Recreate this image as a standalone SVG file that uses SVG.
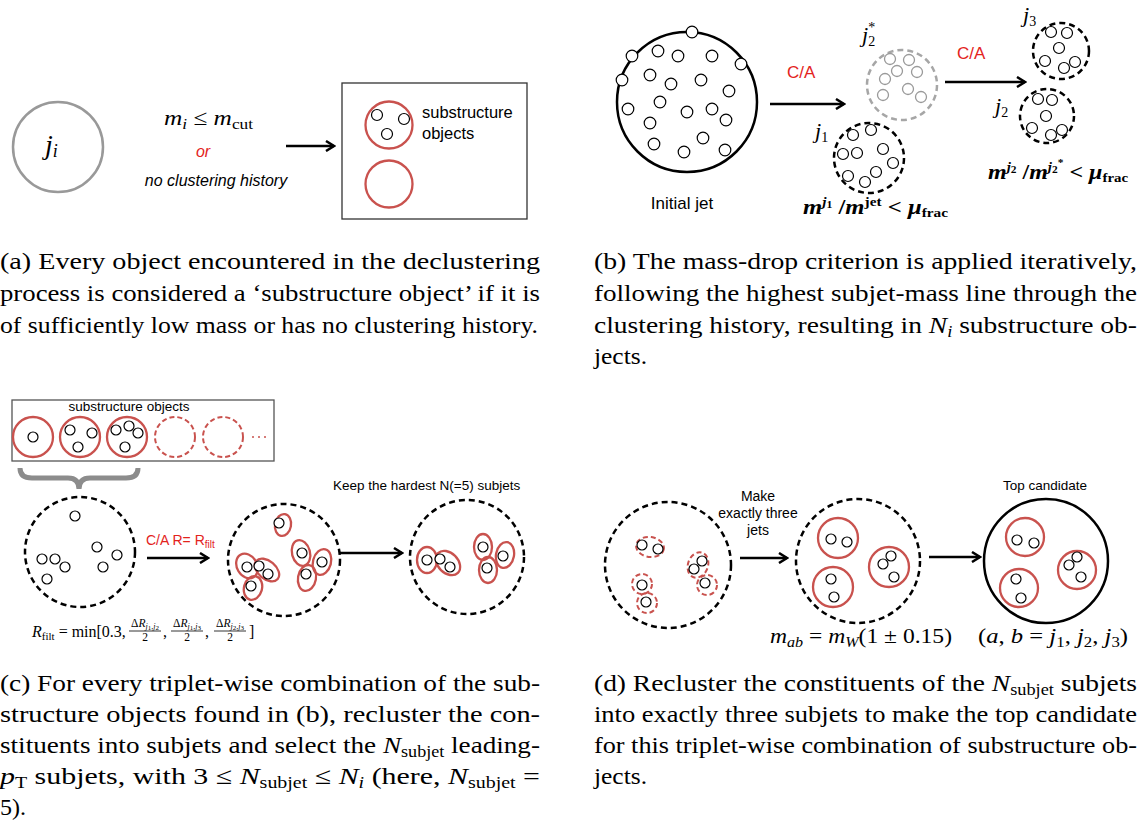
<svg xmlns="http://www.w3.org/2000/svg" width="1139" height="823" viewBox="0 0 1139 823">
<style>
.c{fill:#fff;stroke:#000;stroke-width:1.2}
.cg{fill:none;stroke:#9a9a9a;stroke-width:1.3}
.red{fill:none;stroke:#c9524e;stroke-width:2.3}
.redd{fill:none;stroke:#c9524e;stroke-width:2;stroke-dasharray:5 3}
.jet{fill:none;stroke:#000;stroke-width:2.5}
.jetd{fill:none;stroke:#000;stroke-width:2.5;stroke-dasharray:6 4}
.arr{stroke:#000;stroke-width:2.5;fill:none;marker-end:url(#ah)}
.sans{font-family:"Liberation Sans",Arial,sans-serif;fill:#000}
.serif{font-family:"Liberation Serif","Times New Roman",serif;fill:#000}
.mi{font-family:"Liberation Serif","Times New Roman",serif;font-style:italic;fill:#000}
.bm{font-family:"Liberation Serif","Times New Roman",serif;font-style:italic;font-weight:bold;fill:#000;font-size:21px}
.redt{fill:#e3231c}
.cap{font-family:"Liberation Serif","Times New Roman",serif;font-size:24px;fill:#000}
.up{font-style:normal}
</style>
<defs>
<marker id="ah" viewBox="0 0 12 12" refX="10" refY="6" markerWidth="12" markerHeight="12" markerUnits="userSpaceOnUse" orient="auto">
<path d="M2,1 L10,6 L2,11" fill="none" stroke="#000" stroke-width="2.5"/>
</marker>
</defs>

<!-- Panel (a) -->
<g id="a-jet">
<circle cx="58" cy="147" r="45" fill="#fff" stroke="#999" stroke-width="2.5"/>
<text x="45" y="154" class="mi" font-size="28">j<tspan font-size="18" dy="3">i</tspan></text>
</g>
<g id="a-cond">
<text x="164" y="125" class="mi" font-size="22" textLength="89" lengthAdjust="spacingAndGlyphs">m<tspan font-size="15" dy="4">i</tspan><tspan dy="-4" class="up"> ≤ </tspan>m<tspan font-size="15" dy="4" class="up">cut</tspan></text>
<text x="203" y="157" class="sans redt" font-size="16" font-style="italic" text-anchor="middle">or</text>
<text x="216" y="186" class="sans" font-size="16" font-style="italic" text-anchor="middle">no clustering history</text>
</g>
<g id="a-box">
<rect x="342" y="83" width="185" height="136" fill="#fff" stroke="#333" stroke-width="1.3"/>
<circle cx="389" cy="125" r="23.5" class="red"/>
<circle cx="377" cy="115" r="5.5" class="c"/>
<circle cx="404" cy="119" r="5.5" class="c"/>
<circle cx="387" cy="134" r="5.5" class="c"/>
<circle cx="389" cy="184" r="23.5" class="red"/>
<text x="422" y="118" class="sans" font-size="16.5">substructure</text>
<text x="422" y="139" class="sans" font-size="16.5">objects</text>
</g>

<!-- Panel (b) -->
<g id="b-initial">
<circle cx="687" cy="102" r="70" class="jet"/>
<g class="c">
<circle cx="692" cy="32" r="5.8"/><circle cx="632" cy="56" r="5.8"/><circle cx="658" cy="51" r="5.8"/><circle cx="678" cy="56" r="5.8"/><circle cx="712" cy="56" r="5.8"/><circle cx="741" cy="64" r="5.8"/><circle cx="622" cy="80" r="5.8"/><circle cx="650" cy="75" r="5.8"/><circle cx="671" cy="84" r="5.8"/><circle cx="701" cy="80" r="5.8"/><circle cx="729" cy="91" r="5.8"/><circle cx="628" cy="109" r="5.8"/><circle cx="660" cy="102" r="5.8"/><circle cx="687" cy="112" r="5.8"/><circle cx="712" cy="109" r="5.8"/><circle cx="726" cy="120" r="5.8"/><circle cx="650" cy="123" r="5.8"/><circle cx="654" cy="144" r="5.8"/><circle cx="684" cy="152" r="5.8"/><circle cx="703" cy="138" r="5.8"/><circle cx="725" cy="150" r="5.8"/>
</g>
<text x="682" y="209" class="sans" font-size="17" text-anchor="middle">Initial jet</text>
</g>
<g id="b-j2star">
<circle cx="902" cy="85" r="35" fill="none" stroke="#a6a6a6" stroke-width="2.5" stroke-dasharray="6 4"/>
<g class="cg">
<circle cx="890" cy="59" r="5.5"/><circle cx="909" cy="60" r="5.5"/><circle cx="897" cy="71" r="5.5"/><circle cx="917" cy="72" r="5.5"/><circle cx="885" cy="79" r="5.5"/><circle cx="908" cy="89" r="5.5"/><circle cx="883" cy="95" r="5.5"/><circle cx="921" cy="97" r="5.5"/>
</g>
<text x="862" y="42" class="mi" font-size="22">j<tspan font-size="14" dy="4" class="up">2</tspan><tspan font-size="14" dx="-7" dy="-14" class="up">*</tspan></text>
</g>
<g id="b-j1">
<circle cx="869" cy="158" r="35" class="jetd"/>
<g class="c">
<circle cx="853" cy="135" r="5.5"/><circle cx="871" cy="130" r="5.5"/><circle cx="843" cy="154" r="5.5"/><circle cx="857" cy="153" r="5.5"/><circle cx="883" cy="149" r="5.5"/><circle cx="893" cy="163" r="5.5"/><circle cx="848" cy="176" r="5.5"/><circle cx="865" cy="182" r="5.5"/><circle cx="876" cy="172" r="5.5"/>
</g>
<text x="815" y="138" class="mi" font-size="22">j<tspan font-size="14" dy="4" class="up">1</tspan></text>
<text x="803" y="214" class="bm" textLength="145" lengthAdjust="spacingAndGlyphs">m<tspan font-size="13" dy="-8">j</tspan><tspan font-size="10" dy="2" class="up">1</tspan><tspan dy="6" class="up"> /</tspan>m<tspan font-size="13" dy="-8" class="up">jet</tspan><tspan dy="8" class="up"> &lt; </tspan>μ<tspan font-size="13" dy="3" class="up">frac</tspan></text>
</g>
<g id="b-j3">
<circle cx="1061" cy="51" r="28" class="jetd"/>
<g class="c">
<circle cx="1051" cy="32" r="5.5"/><circle cx="1067" cy="33" r="5.5"/><circle cx="1059" cy="48" r="5.5"/><circle cx="1045" cy="61" r="5.5"/><circle cx="1064" cy="68" r="5.5"/><circle cx="1075" cy="62" r="5.5"/>
</g>
<text x="1023" y="22" class="mi" font-size="22">j<tspan font-size="14" dy="4" class="up">3</tspan></text>
</g>
<g id="b-j2">
<circle cx="1047" cy="116" r="27" class="jetd"/>
<g class="c">
<circle cx="1038" cy="99" r="5.5"/><circle cx="1052" cy="100" r="5.5"/><circle cx="1046" cy="116" r="5.5"/><circle cx="1032" cy="128" r="5.5"/><circle cx="1051" cy="135" r="5.5"/><circle cx="1062" cy="130" r="5.5"/>
</g>
<text x="995" y="113" class="mi" font-size="22">j<tspan font-size="14" dy="4" class="up">2</tspan></text>
<text x="988" y="179" class="bm" textLength="140" lengthAdjust="spacingAndGlyphs">m<tspan font-size="13" dy="-8">j</tspan><tspan font-size="10" dy="2" class="up">2</tspan><tspan dy="6" class="up"> /</tspan>m<tspan font-size="13" dy="-8">j</tspan><tspan font-size="10" dy="2" class="up">2</tspan><tspan font-size="10" dy="-7" class="up">*</tspan><tspan dy="13" class="up"> &lt; </tspan>μ<tspan font-size="13" dy="3" class="up">frac</tspan></text>
</g>
<g id="b-labels">
<text x="787" y="78" class="sans redt" font-size="17">C/A</text>
<text x="957" y="59" class="sans redt" font-size="17">C/A</text>
</g>

<!-- Panel (c) -->
<g id="c-box">
<rect x="12" y="400" width="262" height="61" fill="#fff" stroke="#555" stroke-width="1.3"/>
<text x="129" y="411" class="sans" font-size="13.5" text-anchor="middle">substructure objects</text>
<circle cx="33" cy="437" r="20" class="red"/>
<circle cx="80" cy="437" r="20" class="red"/>
<circle cx="127" cy="437" r="20" class="red"/>
<circle cx="175" cy="437" r="20" class="redd"/>
<circle cx="223" cy="437" r="20" class="redd"/>
<g fill="#c9524e"><circle cx="253" cy="437" r="1"/><circle cx="259" cy="437" r="1"/><circle cx="265" cy="437" r="1"/></g>
<g class="c">
<circle cx="33" cy="437" r="5"/>
<circle cx="70" cy="430" r="5"/><circle cx="92" cy="433" r="5"/><circle cx="78" cy="447" r="5"/>
<circle cx="116" cy="430" r="5"/><circle cx="129" cy="426" r="5"/><circle cx="138" cy="433" r="5"/><circle cx="125" cy="447" r="5"/>
</g>
</g>
<g id="c-brace">
<path d="M20,468 Q20,478 32,478 L68,478 Q79,478 79,489 Q79,478 90,478 L126,478 Q138,478 138,468" fill="none" stroke="#8c8c8c" stroke-width="5"/>
</g>
<g id="c-jet1">
<circle cx="80" cy="552" r="55" class="jetd"/>
<g class="c">
<circle cx="75" cy="516" r="5"/><circle cx="97" cy="547" r="5"/><circle cx="117" cy="555" r="5"/><circle cx="42" cy="559" r="5"/><circle cx="55" cy="559" r="5"/><circle cx="65" cy="567" r="5"/><circle cx="103" cy="567" r="5"/><circle cx="47" cy="579" r="5"/>
</g>
</g>
<g id="c-jet2">
<circle cx="284" cy="560" r="56" class="jetd"/>
<ellipse cx="283" cy="525" rx="8" ry="11" transform="rotate(10 283 525)" class="red"/>
<ellipse cx="247" cy="566" rx="10" ry="13" transform="rotate(-30 247 566)" class="red"/>
<ellipse cx="267" cy="570" rx="9" ry="14" transform="rotate(-50 267 570)" class="red"/>
<ellipse cx="253" cy="588" rx="9" ry="12" transform="rotate(15 253 588)" class="red"/>
<ellipse cx="301" cy="553" rx="9" ry="13" transform="rotate(-15 301 553)" class="red"/>
<ellipse cx="322" cy="562" rx="9" ry="13" transform="rotate(15 322 562)" class="red"/>
<ellipse cx="307" cy="578" rx="9" ry="13" transform="rotate(10 307 578)" class="red"/>
<g class="c">
<circle cx="279" cy="523" r="5"/><circle cx="247" cy="567" r="5"/><circle cx="259" cy="566" r="5"/><circle cx="268" cy="574" r="5"/><circle cx="251" cy="586" r="5"/><circle cx="302" cy="553" r="5"/><circle cx="322" cy="562" r="5"/><circle cx="306" cy="574" r="5"/>
</g>
</g>
<g id="c-jet3">
<circle cx="467" cy="557" r="57" class="jetd"/>
<ellipse cx="427" cy="560" rx="10" ry="13" class="red"/>
<ellipse cx="448" cy="563" rx="10" ry="14" transform="rotate(-45 448 563)" class="red"/>
<ellipse cx="483" cy="547" rx="9" ry="13" class="red"/>
<ellipse cx="505" cy="555" rx="9" ry="13" transform="rotate(10 505 555)" class="red"/>
<ellipse cx="488" cy="570" rx="9" ry="13" class="red"/>
<g class="c">
<circle cx="427" cy="560" r="5"/><circle cx="440" cy="559" r="5"/><circle cx="450" cy="567" r="5"/><circle cx="483" cy="547" r="5"/><circle cx="503" cy="556" r="5"/><circle cx="487" cy="568" r="5"/>
</g>
</g>
<g id="c-labels">
<text x="146" y="545" class="sans redt" font-size="14">C/A R= R<tspan font-size="10" dy="3">filt</tspan></text>
<text x="333" y="490" class="sans" font-size="13.5">Keep the hardest N(=5) subjets</text>
</g>
<g id="c-formula" class="serif">
<text x="32" y="637" font-size="16"><tspan font-style="italic">R</tspan><tspan font-size="11" dy="3">filt</tspan><tspan dy="-3"> = min[0.3,</tspan></text>
<text x="145" y="627" font-size="11.5" text-anchor="middle">Δ<tspan font-style="italic">R</tspan><tspan font-size="8" dy="2" font-style="italic">j</tspan><tspan font-size="7" dy="1">1</tspan><tspan font-size="8" dy="-1">,</tspan><tspan font-size="8" font-style="italic">j</tspan><tspan font-size="7" dy="1">2</tspan></text>
<line x1="129" y1="631" x2="161" y2="631" stroke="#000" stroke-width="0.8"/>
<text x="145" y="641" font-size="11.5" text-anchor="middle">2</text>
<text x="163" y="637" font-size="16">,</text>
<text x="187" y="627" font-size="11.5" text-anchor="middle">Δ<tspan font-style="italic">R</tspan><tspan font-size="8" dy="2" font-style="italic">j</tspan><tspan font-size="7" dy="1">1</tspan><tspan font-size="8" dy="-1">,</tspan><tspan font-size="8" font-style="italic">j</tspan><tspan font-size="7" dy="1">3</tspan></text>
<line x1="171" y1="631" x2="203" y2="631" stroke="#000" stroke-width="0.8"/>
<text x="187" y="641" font-size="11.5" text-anchor="middle">2</text>
<text x="205" y="637" font-size="16">,</text>
<text x="230" y="627" font-size="11.5" text-anchor="middle">Δ<tspan font-style="italic">R</tspan><tspan font-size="8" dy="2" font-style="italic">j</tspan><tspan font-size="7" dy="1">2</tspan><tspan font-size="8" dy="-1">,</tspan><tspan font-size="8" font-style="italic">j</tspan><tspan font-size="7" dy="1">3</tspan></text>
<line x1="214" y1="631" x2="246" y2="631" stroke="#000" stroke-width="0.8"/>
<text x="230" y="641" font-size="11.5" text-anchor="middle">2</text>
<text x="249" y="637" font-size="16">]</text>
</g>

<!-- Panel (d) -->
<g id="d-jet1">
<circle cx="668" cy="565" r="63" class="jetd"/>
<ellipse cx="650" cy="547" rx="14" ry="10" transform="rotate(8 650 547)" class="redd"/>
<ellipse cx="698" cy="565" rx="10" ry="13" transform="rotate(20 698 565)" class="redd"/>
<circle cx="707" cy="585" r="10" class="redd"/>
<circle cx="642" cy="584" r="10" class="redd"/>
<circle cx="647" cy="603" r="10" class="redd"/>
<g class="c">
<circle cx="642" cy="545" r="5"/><circle cx="658" cy="549" r="5"/><circle cx="702" cy="561" r="5"/><circle cx="694" cy="569" r="5"/><circle cx="705" cy="583" r="5"/><circle cx="642" cy="585" r="5"/><circle cx="646" cy="602" r="5"/>
</g>
</g>
<g id="d-jet2">
<circle cx="858" cy="561" r="62" class="jetd"/>
<circle cx="838" cy="538" r="20" class="red"/>
<circle cx="833" cy="587" r="20" class="red"/>
<circle cx="889" cy="567" r="20" class="red"/>
<g class="c">
<circle cx="831" cy="539" r="5"/><circle cx="847" cy="542" r="5"/><circle cx="831" cy="579" r="5"/><circle cx="834" cy="597" r="5"/><circle cx="883" cy="564" r="5"/><circle cx="891" cy="556" r="5"/><circle cx="894" cy="577" r="5"/>
</g>
</g>
<g id="d-top">
<circle cx="1046" cy="561" r="62" class="jet"/>
<circle cx="1025" cy="537" r="19" class="red"/>
<circle cx="1019" cy="588" r="19" class="red"/>
<circle cx="1077" cy="570" r="19" class="red"/>
<g class="c">
<circle cx="1017" cy="540" r="5"/><circle cx="1034" cy="543" r="5"/><circle cx="1016" cy="579" r="5"/><circle cx="1021" cy="598" r="5"/><circle cx="1069" cy="565" r="5"/><circle cx="1077" cy="557" r="5"/><circle cx="1081" cy="577" r="5"/>
</g>
<text x="1045" y="490" class="sans" font-size="13.5" text-anchor="middle">Top candidate</text>
</g>
<g id="d-labels">
<text x="758" y="501" class="sans" font-size="14" text-anchor="middle">Make</text>
<text x="758" y="518" class="sans" font-size="14" text-anchor="middle">exactly three</text>
<text x="758" y="535" class="sans" font-size="14" text-anchor="middle">jets</text>
<text x="770" y="643" class="serif" font-size="22" textLength="182" lengthAdjust="spacingAndGlyphs"><tspan font-style="italic">m</tspan><tspan font-size="15" dy="4" font-style="italic">ab</tspan><tspan dy="-4"> = </tspan><tspan font-style="italic">m</tspan><tspan font-size="15" dy="4" font-style="italic">W</tspan><tspan dy="-4">(1 ± 0.15)</tspan></text>
<text x="978" y="643" class="serif" font-size="22" textLength="150" lengthAdjust="spacingAndGlyphs">(<tspan font-style="italic">a</tspan>, <tspan font-style="italic">b</tspan> = <tspan font-style="italic">j</tspan><tspan font-size="15" dy="4">1</tspan><tspan dy="-4">, </tspan><tspan font-style="italic">j</tspan><tspan font-size="15" dy="4">2</tspan><tspan dy="-4">, </tspan><tspan font-style="italic">j</tspan><tspan font-size="15" dy="4">3</tspan><tspan dy="-4">)</tspan></text>
</g>

<!-- Connectors -->
<g id="connectors">
<line x1="286" y1="146" x2="334" y2="146" class="arr"/>
<line x1="770" y1="104" x2="844" y2="104" class="arr"/>
<line x1="945" y1="82" x2="1025" y2="82" class="arr"/>
<line x1="147" y1="558" x2="208" y2="558" class="arr"/>
<line x1="340" y1="553" x2="402" y2="553" class="arr"/>
<line x1="740" y1="558" x2="787" y2="558" class="arr"/>
<line x1="929" y1="557" x2="980" y2="557" class="arr"/>
</g>

<!-- Captions -->
<g id="captions" class="cap">
<text x="0" y="269" textLength="540" lengthAdjust="spacingAndGlyphs">(a) Every object encountered in the declustering</text>
<text x="0" y="301" textLength="540" lengthAdjust="spacingAndGlyphs">process is considered a ‘substructure object’ if it is</text>
<text x="0" y="333" textLength="538" lengthAdjust="spacingAndGlyphs">of sufficiently low mass or has no clustering history.</text>

<text x="594" y="269" textLength="543" lengthAdjust="spacingAndGlyphs">(b) The mass-drop criterion is applied iteratively,</text>
<text x="594" y="301" textLength="543" lengthAdjust="spacingAndGlyphs">following the highest subjet-mass line through the</text>
<text x="594" y="333" textLength="543" lengthAdjust="spacingAndGlyphs">clustering history, resulting in <tspan font-style="italic">N</tspan><tspan font-size="16" dy="4" font-style="italic">i</tspan><tspan dy="-4"> substructure ob-</tspan></text>
<text x="594" y="364" textLength="53" lengthAdjust="spacingAndGlyphs">jects.</text>

<text x="0" y="691" textLength="540" lengthAdjust="spacingAndGlyphs">(c) For every triplet-wise combination of the sub-</text>
<text x="0" y="722" textLength="540" lengthAdjust="spacingAndGlyphs">structure objects found in (b), recluster the con-</text>
<text x="0" y="753" textLength="540" lengthAdjust="spacingAndGlyphs">stituents into subjets and select the <tspan font-style="italic">N</tspan><tspan font-size="16" dy="4">subjet</tspan><tspan dy="-4"> leading-</tspan></text>
<text x="0" y="784" textLength="540" lengthAdjust="spacingAndGlyphs"><tspan font-style="italic">p</tspan><tspan font-size="16" dy="4">T</tspan><tspan dy="-4"> subjets, with 3 ≤ </tspan><tspan font-style="italic">N</tspan><tspan font-size="16" dy="4">subjet</tspan><tspan dy="-4"> ≤ </tspan><tspan font-style="italic">N</tspan><tspan font-size="16" dy="4" font-style="italic">i</tspan><tspan dy="-4"> (here, </tspan><tspan font-style="italic">N</tspan><tspan font-size="16" dy="4">subjet</tspan><tspan dy="-4"> =</tspan></text>
<text x="0" y="815">5).</text>

<text x="594" y="691" textLength="543" lengthAdjust="spacingAndGlyphs">(d) Recluster the constituents of the <tspan font-style="italic">N</tspan><tspan font-size="16" dy="4">subjet</tspan><tspan dy="-4"> subjets</tspan></text>
<text x="594" y="722" textLength="543" lengthAdjust="spacingAndGlyphs">into exactly three subjets to make the top candidate</text>
<text x="594" y="753" textLength="543" lengthAdjust="spacingAndGlyphs">for this triplet-wise combination of substructure ob-</text>
<text x="594" y="784" textLength="53" lengthAdjust="spacingAndGlyphs">jects.</text>
</g>
</svg>
